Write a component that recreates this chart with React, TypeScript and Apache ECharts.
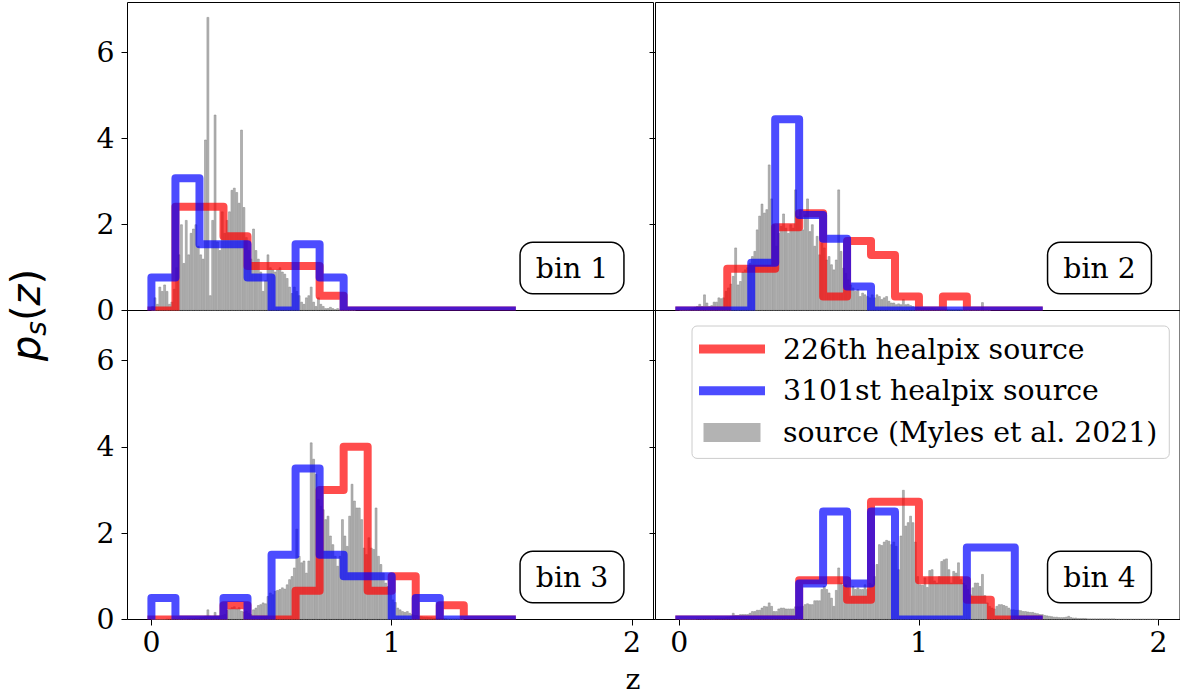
import { useEffect, useRef } from 'react';
import * as echarts from 'echarts';

// ---------- names / labels ----------
const RED_NAME = '226th healpix source';
const BLUE_NAME = '3101st healpix source';
const GRAY_NAME = 'source (Myles et al. 2021)';
const binLabels = ['bin 1', 'bin 2', 'bin 3', 'bin 4'];
const xTicks = [0, 1, 2];
const yTicks = [0, 2, 4, 6];

// ---------- step histograms (bin edges 0 .. 1.5, width 0.1) ----------
const stepEdges = [0, 0.1, 0.2, 0.3, 0.4, 0.5, 0.6, 0.7, 0.8, 0.9, 1.0, 1.1, 1.2, 1.3, 1.4, 1.5];

const red1 = [0, 2.414, 2.414, 1.724, 1.034, 1.034, 1.034, 0.345, 0, 0, 0, 0, 0, 0, 0];
const blue1 = [0.769, 3.077, 1.538, 1.538, 0.769, 0, 1.538, 0.769, 0, 0, 0, 0, 0, 0, 0];
const red2 = [0, 0, 0.968, 0.968, 1.935, 2.258, 0.323, 1.613, 1.29, 0.323, 0, 0.323, 0, 0, 0];
const blue2 = [0, 0, 0, 1.111, 4.444, 2.222, 1.667, 0.556, 0, 0, 0, 0, 0, 0, 0];
const red3 = [0, 0, 0, 0.333, 0, 0, 0.667, 3.0, 4.0, 0.667, 1.0, 0, 0.333, 0, 0];
const blue3 = [0.5, 0, 0, 0.5, 0, 1.5, 3.5, 1.5, 1.0, 1.0, 0, 0.5, 0, 0, 0];
const red4 = [0, 0, 0, 0, 0, 0.909, 0.909, 0.455, 2.727, 2.727, 0.909, 0.909, 0.455, 0, 0];
const blue4 = [0, 0, 0, 0, 0, 0.833, 2.5, 0.833, 2.5, 0, 0, 0, 1.667, 1.667, 0];

// ---------- source n(z) histograms (start 0, width 0.01) ----------
const histStart = 0;
const histStep = 0.01;

const gray1 = [
  0.1, 0.3, 0.15, 0.55, 0.45, 0.6, 0.45, 0.15, 0.2, 0.5,
  1.0, 1.3, 2.0, 1.1, 2.1, 1.3, 1.8, 1.9, 2.0, 1.5,
  1.3, 1.2, 3.97, 6.82, 0.35, 2.1, 4.55, 1.6, 1.4, 2.3,
  1.8, 2.1, 2.3, 2.8, 2.85, 2.75, 2.5, 4.2, 2.4, 1.7,
  1.4, 1.2, 1.9, 1.4, 1.2, 0.9, 0.45, 0.7, 1.3, 1.0,
  0.95, 0.9, 0.95, 1.0, 0.9, 0.85, 0.75, 0.55, 0.4, 0.55,
  0.45, 0.35, 0.2, 0.15, 0.3, 0.35, 0.55, 0.2, 0.1, 0.3,
  0.15, 0.1, 0.05, 0.05, 0.08, 0.05, 0.03, 0.05, 0.02, 0.02,
  0.01, 0.01, 0.01, 0.01, 0.01,
];

const gray2 = [
  0.01, 0.01, 0.02, 0.02, 0.03, 0.05, 0.08, 0.1, 0.15, 0.1,
  0.37, 0.18, 0.1, 0.12, 0.2, 0.2, 0.3, 0.28, 0.3, 0.45,
  0.53, 0.62, 0.8, 1.46, 0.6, 0.68, 0.9, 0.95, 1.0, 1.1,
  1.26, 1.38, 1.88, 2.2, 2.48, 2.27, 2.35, 3.39, 2.6, 2.0,
  1.5, 1.8, 1.96, 2.25, 1.92, 1.8, 2.0, 1.92, 2.81, 2.19,
  2.35, 1.88, 2.23, 2.6, 1.84, 2.0, 1.5, 1.73, 1.3, 1.57,
  1.46, 1.18, 1.26, 1.07, 0.95, 1.18, 2.81, 1.38, 0.99, 0.87,
  0.72, 0.6, 0.53, 0.45, 0.49, 0.33, 0.41, 0.37, 0.33, 0.3,
  0.37, 0.3, 0.37, 0.33, 0.26, 0.3, 0.33, 0.22, 0.18, 0.18,
  0.14, 0.16, 0.14, 0.26, 0.14, 0.15, 0.12, 0.1, 0.08, 0.08,
  0.07, 0.06, 0.06, 0.05, 0.05, 0.06, 0.05, 0.04, 0.04, 0.04,
  0.04, 0.04, 0.03, 0.03, 0.03, 0.03, 0.03, 0.03, 0.02, 0.02,
  0.02, 0.02, 0.02, 0.02, 0.02, 0.02, 0.19, 0.02, 0.02, 0.01,
];

const gray3 = [
  0, 0, 0, 0, 0, 0, 0.01, 0.01, 0.01, 0.01,
  0.01, 0.02, 0.02, 0.02, 0.02, 0.03, 0.03, 0.03, 0.04, 0.04,
  0.05, 0.06, 0.08, 0.23, 0.08, 0.07, 0.17, 0.08, 0.09, 0.1,
  0.12, 0.22, 0.25, 0.28, 0.3, 0.25, 0.28, 0.2, 0.18, 0.2,
  0.15, 0.12, 0.23, 0.27, 0.33, 0.35, 0.39, 0.37, 0.54, 0.62,
  0.58, 0.66, 0.68, 0.7, 0.74, 0.71, 0.81, 0.93, 1.0, 1.2,
  2.1, 1.47, 1.32, 1.36, 1.08, 1.36, 4.1, 3.72, 3.37, 2.79,
  2.63, 2.55, 2.32, 2.4, 1.94, 1.74, 1.47, 1.24, 1.47, 2.32,
  1.94, 1.7, 2.4, 3.14, 2.75, 2.59, 2.59, 2.32, 1.66, 1.51,
  1.9, 1.66, 1.63, 2.59, 1.47, 1.28, 1.08, 0.85, 0.77, 0.58,
  0.46, 0.4, 0.27, 0.23, 0.19, 0.17, 0.19, 0.15, 0.12, 0.1,
  0.1, 0.08, 0.07, 0.06, 0.06, 0.05, 0.05, 0.04, 0.04, 0.04,
  0.03, 0.03, 0.03, 0.02, 0.02, 0.02, 0.02, 0.02, 0.01, 0.01,
];

const gray4 = [
  0, 0, 0, 0, 0, 0, 0, 0.01, 0.01, 0.01,
  0.01, 0.01, 0.02, 0.02, 0.02, 0.03, 0.03, 0.04, 0.04, 0.05,
  0.06, 0.08, 0.15, 0.1, 0.1, 0.12, 0.12, 0.12, 0.12, 0.15,
  0.19, 0.19, 0.22, 0.22, 0.27, 0.31, 0.3, 0.39, 0.31, 0.19,
  0.19, 0.25, 0.27, 0.27, 0.25, 0.25, 0.25, 0.25, 0.3, 0.3,
  0.3, 0.31, 0.35, 0.37, 0.35, 0.35, 0.44, 0.44, 0.44, 0.7,
  0.77, 0.7, 0.62, 0.5, 0.31, 0.68, 1.2, 0.85, 0.8, 0.81,
  0.74, 0.54, 0.77, 0.7, 0.74, 0.7, 0.7, 0.81, 0.7, 0.85,
  0.81, 1.0, 1.28, 1.74, 1.72, 1.8, 1.84, 1.82, 1.74, 1.8,
  1.7, 1.16, 1.94, 3.0, 2.17, 2.25, 2.4, 2.25, 1.8, 1.0,
  0.81, 0.8, 0.97, 0.75, 1.14, 1.16, 0.9, 0.85, 1.0, 1.35,
  1.39, 1.41, 1.16, 0.85, 1.12, 1.08, 1.32, 0.93, 0.85, 0.8,
  0.7, 0.58, 0.74, 0.85, 0.85, 0.77, 1.05, 0.56, 0.39, 0.31,
  0.27, 0.25, 0.31, 0.35, 0.35, 0.33, 0.31, 0.27, 0.23, 0.23,
  0.22, 0.22, 0.21, 0.19, 0.19, 0.18, 0.17, 0.17, 0.15, 0.14,
  0.12, 0.12, 0.1, 0.09, 0.08, 0.07, 0.06, 0.06, 0.05, 0.05,
  0.05, 0.06, 0.08, 0.05, 0.04, 0.04, 0.03, 0.03, 0.03, 0.03,
  0.02, 0.02, 0.02, 0.02, 0.02, 0.02, 0.02, 0.02, 0.02, 0.02,
  0.02, 0.02, 0.01, 0.01, 0.01, 0.01, 0.01, 0.01, 0.01, 0.01,
  0.01, 0.01, 0.01, 0.01, 0.01, 0.01, 0.01, 0.01, 0.01, 0.01,
];

// ---------- layout / style constants ----------
const X_MIN = -0.0995;
const X_MAX = 2.0895;
const Y_MAX = 7.16;
const GRID_W = 526;
const SERIF = 'DejaVu Serif';
const FS = 28.3;

const panels = [
  { red: red1, blue: blue1, gray: gray1 },
  { red: red2, blue: blue2, gray: gray2 },
  { red: red3, blue: blue3, gray: gray3 },
  { red: red4, blue: blue4, gray: gray4 },
];

function stepRenderer(values: number[], color: string) {
  return (_params: any, api: any) => {
    const pts: number[][] = [api.coord([stepEdges[0], 0])];
    values.forEach((v, i) => {
      pts.push(api.coord([stepEdges[i], v]));
      pts.push(api.coord([stepEdges[i + 1], v]));
    });
    pts.push(api.coord([stepEdges[stepEdges.length - 1], 0]));
    return {
      type: 'polyline',
      shape: { points: pts },
      style: {
        fill: null,
        stroke: color,
        lineWidth: 8,
        opacity: 0.7,
        lineJoin: 'round',
        lineCap: 'square',
      },
    };
  };
}

function buildOption() {
  const grid = panels.map((_, i) => ({
    left: i % 2 ? 655.5 : 127.5,
    top: i < 2 ? 2.5 : 310.5,
    width: GRID_W,
    height: i < 2 ? 308 : 309,
    show: true,
    borderColor: '#000',
    borderWidth: 1,
    backgroundColor: 'transparent',
  }));

  const xAxis = panels.map((_, i) => ({
    type: 'value',
    gridIndex: i,
    min: X_MIN,
    max: X_MAX,
    splitLine: { show: false },
    axisLine: { show: false, onZero: false },
    axisTick: {
      show: i >= 2,
      length: 6,
      inside: false,
      customValues: xTicks,
      lineStyle: { color: '#000', width: 1 },
    },
    axisLabel: {
      show: i >= 2,
      customValues: xTicks,
      margin: 9,
      fontFamily: SERIF,
      fontSize: FS,
      color: '#000',
      formatter: (v: number) => String(v),
    },
  }));

  const yAxis = panels.map((_, i) => ({
    type: 'value',
    gridIndex: i,
    min: 0,
    max: Y_MAX,
    splitLine: { show: false },
    axisLine: { show: false, onZero: false },
    axisTick: {
      show: true,
      length: 6,
      inside: false,
      customValues: yTicks,
      lineStyle: { color: '#000', width: 1 },
    },
    axisLabel: {
      show: i % 2 === 0,
      customValues: yTicks,
      margin: 13,
      fontFamily: SERIF,
      fontSize: FS,
      color: '#000',
      formatter: (v: number) => String(v),
    },
  }));

  const barWidth = (GRID_W * histStep) / (X_MAX - X_MIN);
  const series: any[] = [];
  panels.forEach((p, i) => {
    series.push({
      type: 'bar',
      name: GRAY_NAME,
      xAxisIndex: i,
      yAxisIndex: i,
      barWidth,
      data: p.gray.map((v, k) => [histStart + (k + 0.5) * histStep, v]),
      itemStyle: { color: '#b3b3b3', borderColor: '#858585', borderWidth: 0.5 },
      emphasis: { disabled: true },
      z: 1,
    });
  });
  panels.forEach((p, i) => {
    series.push({
      type: 'custom',
      name: RED_NAME,
      xAxisIndex: i,
      yAxisIndex: i,
      clip: true,
      data: [[0, 0]],
      renderItem: stepRenderer(p.red, 'rgb(255,0,0)'),
      z: 2,
    });
  });
  panels.forEach((p, i) => {
    series.push({
      type: 'custom',
      name: BLUE_NAME,
      xAxisIndex: i,
      yAxisIndex: i,
      clip: true,
      data: [[0, 0]],
      renderItem: stepRenderer(p.blue, 'rgb(0,0,255)'),
      z: 3,
    });
  });

  const binCenters = [
    [572, 268],
    [1099.5, 268],
    [572, 577],
    [1099.5, 577],
  ];
  const graphic: any[] = binLabels.map((t, i) => ({
    type: 'text',
    x: binCenters[i][0],
    y: binCenters[i][1],
    z: 10,
    style: {
      text: t,
      fontFamily: SERIF,
      fontSize: FS,
      fill: '#000',
      align: 'center',
      verticalAlign: 'middle',
      backgroundColor: '#fff',
      borderColor: '#000',
      borderWidth: 1.5,
      borderRadius: 12,
      padding: [11, 15],
    },
  }));
  graphic.push({
    type: 'text',
    x: 26,
    y: 315,
    rotation: Math.PI / 2,
    style: {
      text: '{p|p}{s|s}{n|(}{p|z}{n|)}',
      align: 'center',
      verticalAlign: 'middle',
      fill: '#000',
      rich: {
        p: { fontFamily: 'DejaVu Sans', fontStyle: 'italic', fontSize: 40, lineHeight: 48 },
        s: { fontFamily: 'DejaVu Sans', fontStyle: 'italic', fontSize: 28, lineHeight: 30, verticalAlign: 'bottom' },
        n: { fontFamily: 'DejaVu Sans', fontSize: 40, lineHeight: 48 },
      },
    },
  });
  graphic.push({
    type: 'text',
    x: 633,
    y: 693,
    style: {
      text: 'z',
      fontFamily: SERIF,
      fontSize: FS,
      fill: '#000',
      align: 'center',
      verticalAlign: 'bottom',
    },
  });

  return {
    animation: false,
    backgroundColor: '#fff',
    grid,
    xAxis,
    yAxis,
    series,
    graphic,
    legend: {
      orient: 'vertical',
      left: 692,
      top: 326,
      padding: [7, 12, 10, 7],
      itemGap: 9.7,
      itemWidth: 66,
      itemHeight: 19,
      selectedMode: false,
      backgroundColor: 'rgba(255,255,255,0.8)',
      borderColor: '#cccccc',
      borderWidth: 1,
      borderRadius: 5,
      textStyle: {
        fontFamily: SERIF,
        fontSize: FS,
        color: '#000',
        lineHeight: 32,
        padding: [0, 0, 0, 13],
      },
      data: [
        { name: RED_NAME, icon: 'path://M0 0H66V9H0Z', itemStyle: { color: 'rgba(255,0,0,0.7)', borderWidth: 0 } },
        { name: BLUE_NAME, icon: 'path://M0 0H66V9H0Z', itemStyle: { color: 'rgba(0,0,255,0.7)', borderWidth: 0 } },
        { name: GRAY_NAME, icon: 'path://M0 0H57V19H0Z', itemStyle: { color: '#b3b3b3', borderWidth: 0 } },
      ],
    },
  };
}

export default function App() {
  const ref = useRef<HTMLDivElement>(null);
  useEffect(() => {
    if (!ref.current) return;
    const chart = echarts.init(ref.current, undefined, { renderer: 'svg' });
    chart.setOption(buildOption() as any);
    return () => chart.dispose();
  }, []);
  return (
    <div
      ref={ref}
      style={{ position: 'absolute', left: 0, top: 0, width: 1180, height: 694, background: '#fff' }}
    />
  );
}
